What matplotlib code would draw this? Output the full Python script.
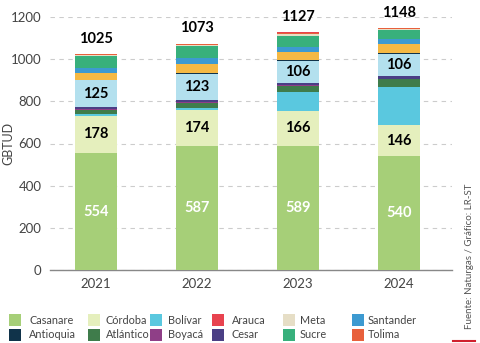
import matplotlib
matplotlib.use("Agg")
import matplotlib.pyplot as plt
from matplotlib.patches import Rectangle
import numpy as np

plt.rcParams['font.family'] = ['Lato', 'DejaVu Sans']

years = ["2021", "2022", "2023", "2024"]
totals = [1025, 1073, 1127, 1148]

# stacked segments, bottom to top
casanare  = [554, 587, 589, 540]
cordoba   = [178, 174, 166, 146]
bolivar   = [8, 8, 88, 180]
atlantico = [20, 22, 32, 38]
boyaca    = [4, 5, 4, 4]
cesar     = [10, 12, 8, 10]
guajira   = [125, 123, 106, 106]
antioquia = [4, 5, 5, 4]
otros     = [32, 40, 35, 45]
santander = [25, 30, 27, 22]
sucre     = [57, 56, 52, 43]
meta      = [5, 6, 6, 4]
tolima    = [1, 5, 8, 6]
arauca    = [0, 0, 1, 0]

series = [
    ("Casanare", casanare, "#a6cf78"),
    ("Córdoba", cordoba, "#e5efbd"),
    ("Bolívar", bolivar, "#5ac8df"),
    ("Atlántico", atlantico, "#3f7c4b"),
    ("Boyacá", boyaca, "#8f3f87"),
    ("Cesar", cesar, "#4b3f85"),
    ("_La Guajira", guajira, "#b3e0ee"),
    ("Antioquia", antioquia, "#10334a"),
    ("_Otros", otros, "#f5b944"),
    ("Santander", santander, "#3d9ad1"),
    ("Sucre", sucre, "#38b07c"),
    ("Meta", meta, "#e6dec6"),
    ("Tolima", tolima, "#e8603c"),
    ("Arauca", arauca, "#e8434f"),
]
labelled = {"Casanare": "white", "Córdoba": "black", "_La Guajira": "black"}

legend_row1 = ["Casanare", "Córdoba", "Bolívar", "Arauca", "Meta", "Santander"]
legend_row2 = ["Antioquia", "Atlántico", "Boyacá", "Cesar", "Sucre", "Tolima"]

W, H = 480, 343
fig = plt.figure(figsize=(W / 100, H / 100), dpi=100)
ax = fig.add_axes([50 / W, 1 - 270 / H, 402 / W, 253 / H])

x = np.arange(len(years))
bottom = np.zeros(len(years))
colors = {}
for name, vals, col in series:
    vals = np.array(vals, dtype=float)
    ax.bar(x, vals, 0.42, bottom=bottom, color=col, label=name, zorder=3)
    colors[name] = col
    if name in labelled:
        for xi, b, v in zip(x, bottom, vals):
            ax.text(xi, b + v / 2, f"{int(v)}", ha="center", va="center",
                    color=labelled[name], fontsize=10.5, fontweight="bold", zorder=4)
    bottom += vals

for xi, t, tot in zip(x, bottom, totals):
    ax.annotate(f"{tot}", (xi, t), xytext=(0, 6), textcoords="offset points",
                ha="center", va="bottom", fontsize=10.5, fontweight="bold", color="black")

ax.set_xlim(-0.455, 3.525)
ax.set_ylim(0, 1200)
ax.set_yticks(range(0, 1201, 200))
ax.set_xticks(x)
ax.set_xticklabels(years)
ax.tick_params(length=0, labelsize=9.5, colors="#444444", pad=6)
ax.tick_params(axis="y", pad=6)
for s in ["top", "right", "left"]:
    ax.spines[s].set_visible(False)
ax.spines["bottom"].set_color("#888888")
ax.spines["bottom"].set_linewidth(1.0)
ax.yaxis.grid(True, linestyle=(0, (4, 4)), color="#cccccc", linewidth=0.8, zorder=0)
ax.set_axisbelow(True)
ax.set_ylabel("GBTUD", fontsize=9, color="#444444")
ax.yaxis.set_label_coords((14 - 50) / 402, 0.5)

# legend (manually laid out in figure pixels)
marker_x = [9, 88, 150, 212, 283, 352]
text_x = [29, 106, 168, 232, 300, 368]
row_y = [320, 335]
for row, names in zip(row_y, [legend_row1, legend_row2]):
    for mx, tx, n in zip(marker_x, text_x, names):
        fig.add_artist(Rectangle((mx / W, 1 - (row + 6) / H), 12 / W, 12 / H,
                                 transform=fig.transFigure, facecolor=colors[n],
                                 edgecolor="none"))
        fig.text(tx / W, 1 - row / H, n, ha="left", va="center", fontsize=7.8,
                 color="#444444")

fig.text(469 / W, 1 - 256 / H, "Fuente: Naturgas / Gráfico: LR-ST", rotation=90,
         ha="center", va="center", fontsize=7, color="#555555")
fig.add_artist(plt.Line2D([453 / W, 475 / W], [1 - 341 / H, 1 - 341 / H],
                          color="#d0202e", lw=1.5))

fig.savefig("out.png", dpi=100)
